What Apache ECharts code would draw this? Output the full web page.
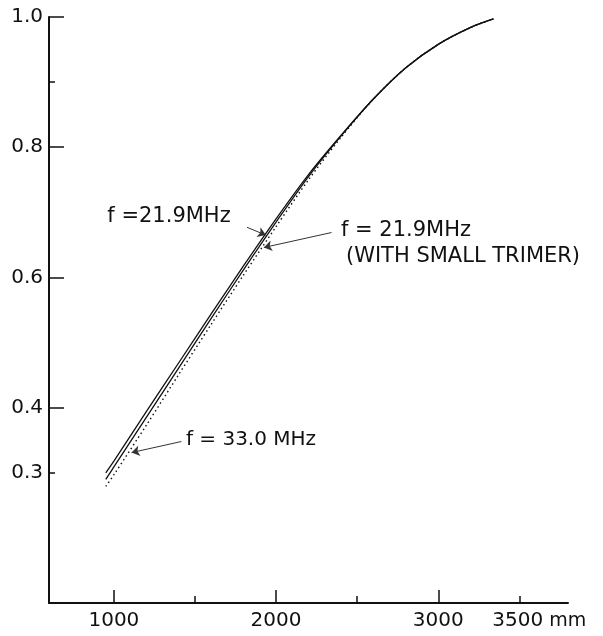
<!DOCTYPE html>
<html>
<head>
<meta charset="utf-8">
<script src="https://cdn.jsdelivr.net/npm/echarts@6/dist/echarts.min.js"></script>
<style>
html, body { margin: 0; padding: 0; background: #fff; }
#main { width: 603px; height: 636px; }
</style>
</head>
<body>
<div id="main"></div>
<script>
// length in mm
var xs = [950, 1000, 1200, 1400, 1600, 1800, 2000, 2200, 2400, 2600, 2800, 3000, 3200, 3340];
var f219 = [0.300, 0.318, 0.394, 0.469, 0.544, 0.618, 0.690, 0.758, 0.818, 0.874, 0.922, 0.958, 0.984, 0.997];
var f219Trim = [0.290, 0.309, 0.385, 0.461, 0.537, 0.612, 0.685, 0.755, 0.817, 0.874, 0.922, 0.958, 0.984, 0.997];
var f330 = [0.279, 0.297, 0.373, 0.451, 0.528, 0.604, 0.678, 0.750, 0.815, 0.874, 0.922, 0.958, 0.984, 0.997];

var xLabels = [1000, 2000, 3000, 3500];
var xMajor = [1000, 2000, 3000];
var xMinor = [1500, 2500, 3500];
var yLabels = [0.3, 0.4, 0.6, 0.8, 1.0];
var yMajor = [0.4, 0.6, 0.8, 1.0];
var yMinor = [0.3, 0.9];

// arrows: [tail, tip] in data coords
var arrows = [
	[[1821, 0.677], [1937, 0.665]],
	[[2342, 0.669], [1925, 0.646]],
	[[1416, 0.348], [1109, 0.331]]
];

function pairs(ys) {
	return xs.map(function(x, i) { return [x, ys[i]]; });
}

var chart = echarts.init(document.getElementById('main'));
var ink = '#111';

var option = {
	animation : false,
	backgroundColor : '#fff',
	grid : { left : 49, right : 35, top : 17, bottom : 33 },
	xAxis : [ {
		type : 'value', min : 600, max : 3800,
		axisLine : { lineStyle : { color : ink, width : 2 } },
		axisTick : { inside : true, length : 13, customValues : xMajor, lineStyle : { color : ink, width : 1.5 } },
		axisLabel : {
			customValues : xLabels, margin : 8, fontSize : 20, color : ink, fontFamily : 'DejaVu Sans',
			formatter : function(v) { return v === 3500 ? '{p|}{n|3500}{u| mm}' : String(v); },
			rich : {
				p : { width : 40 },
				n : { fontSize : 20, color : ink, fontFamily : 'DejaVu Sans' },
				u : { fontSize : 19, color : ink, fontFamily : 'DejaVu Sans' }
			}
		},
		splitLine : { show : false }
	}, {
		type : 'value', min : 600, max : 3800, position : 'bottom',
		axisLine : { show : false },
		axisTick : { inside : true, length : 7, customValues : xMinor, lineStyle : { color : ink, width : 1.5 } },
		axisLabel : { show : false },
		splitLine : { show : false }
	} ],
	yAxis : [ {
		type : 'value', min : 0.1, max : 1.0,
		axisLine : { show : true, lineStyle : { color : ink, width : 2 } },
		axisTick : { show : true, inside : true, length : 15, customValues : yMajor, lineStyle : { color : ink, width : 1.5 } },
		axisLabel : {
			customValues : yLabels, margin : 6, fontSize : 20, color : ink, fontFamily : 'DejaVu Sans',
			formatter : function(v) { return v.toFixed(1); }
		},
		splitLine : { show : false }
	}, {
		type : 'value', min : 0.1, max : 1.0, position : 'left',
		axisLine : { show : false },
		axisTick : { show : true, inside : true, length : 6, customValues : yMinor, lineStyle : { color : ink, width : 1.5 } },
		axisLabel : { show : false },
		splitLine : { show : false }
	} ],
	series : [ {
		name : 'f=21.9MHz',
		type : 'line', smooth : 0.3, symbol : 'none',
		lineStyle : { color : ink, width : 1.3 },
		data : pairs(f219),
		markLine : {
			silent : true, symbol : [ 'none', 'arrow' ], symbolSize : 8,
			label : { show : false },
			itemStyle : { color : ink },
			lineStyle : { color : '#333', width : 1, type : 'solid' },
			data : arrows.map(function(a) { return [ { coord : a[0] }, { coord : a[1] } ]; })
		}
	}, {
		name : 'f=21.9MHz (WITH SMALL TRIMER)',
		type : 'line', smooth : 0.3, symbol : 'none',
		lineStyle : { color : ink, width : 1.3 },
		data : pairs(f219Trim)
	}, {
		name : 'f=33.0MHz',
		type : 'line', smooth : 0.3, symbol : 'none',
		lineStyle : { color : ink, width : 1.4, type : [ 1.5, 3 ] },
		data : pairs(f330)
	} ],
	graphic : [
		{ type : 'text', x : 169, y : 217, style : { text : 'f =21.9MHz', fill : ink, font : '21px "DejaVu Sans"', textAlign : 'center', textVerticalAlign : 'middle' } },
		{ type : 'text', x : 406, y : 231, style : { text : 'f = 21.9MHz', fill : ink, font : '21px "DejaVu Sans"', textAlign : 'center', textVerticalAlign : 'middle' } },
		{ type : 'text', x : 463, y : 257, style : { text : '(WITH SMALL TRIMER)', fill : ink, font : '21px "DejaVu Sans"', textAlign : 'center', textVerticalAlign : 'middle' } },
		{ type : 'text', x : 251, y : 440, style : { text : 'f = 33.0 MHz', fill : ink, font : '20px "DejaVu Sans"', textAlign : 'center', textVerticalAlign : 'middle' } }
	]
};
chart.setOption(option);
</script>
</body>
</html>
